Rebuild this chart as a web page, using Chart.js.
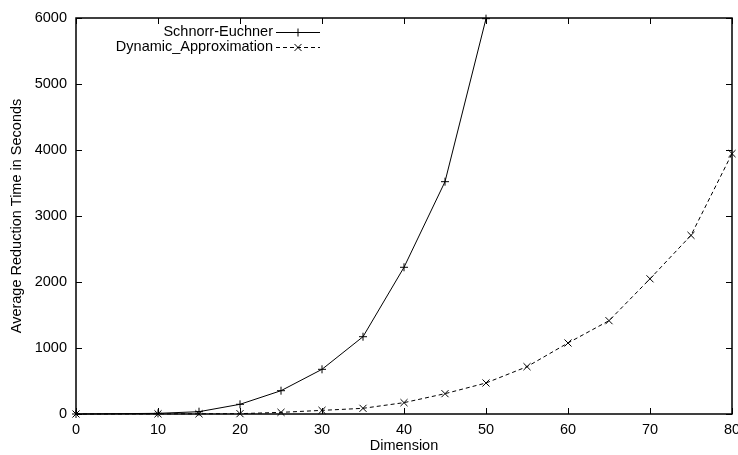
<!DOCTYPE html>
<html>
<head>
<meta charset="utf-8">
<script src="https://cdn.jsdelivr.net/npm/chart.js@4/dist/chart.umd.min.js"></script>
<style>
  html, body { margin: 0; padding: 0; background: #fff; }
  #wrap { width: 738px; height: 455px; }
</style>
</head>
<body>
<div id="wrap"><canvas id="c" width="738" height="455"></canvas></div>
<script>
// ---- data ----
const xAxisTitle = "Dimension";
const yAxisTitle = "Average Reduction Time in Seconds";
const seriesNames = ["Schnorr-Euchner", "Dynamic_Approximation"];
const schnorrDims = [0, 10, 15, 20, 25, 30, 35, 40, 45, 50];
const schnorrTimes = [0, 10, 35, 147, 353, 677, 1171, 2223, 3520, 5990];
const dynamicDims = [0, 10, 15, 20, 25, 30, 35, 40, 45, 50, 55, 60, 65, 70, 75, 80];
const dynamicTimes = [0, 2, 3, 5, 25, 55, 86, 172, 308, 470, 717, 1076, 1414, 2048, 2707, 3945];
const xTicks = [0, 10, 20, 30, 40, 50, 60, 70, 80];
const yTicks = [0, 1000, 2000, 3000, 4000, 5000, 6000];

const FONT = "'Liberation Sans', Arial, Helvetica, sans-serif";
const FS = 14.5;

function toPoints(xs, ys) { return xs.map((x, i) => ({ x: x, y: ys[i] })); }

const frame = {
  id: 'frame',
  afterDatasetsDraw(chart) {
    const { ctx, chartArea: a, scales } = chart;
    const x = scales.x, y = scales.y;
    const L = 6;
    ctx.save();
    ctx.strokeStyle = '#000';
    ctx.lineWidth = 1;
    ctx.beginPath();
    xTicks.forEach(v => {
      const px = Math.round(x.getPixelForValue(v)) + 0.5;
      ctx.moveTo(px, a.bottom); ctx.lineTo(px, a.bottom - L);
      ctx.moveTo(px, a.top); ctx.lineTo(px, a.top + L);
    });
    yTicks.forEach(v => {
      const py = Math.round(y.getPixelForValue(v)) + 0.5;
      ctx.moveTo(a.left, py); ctx.lineTo(a.left + L, py);
      ctx.moveTo(a.right, py); ctx.lineTo(a.right - L, py);
    });
    ctx.stroke();
    ctx.lineWidth = 1.5;
    ctx.strokeRect(a.left, a.top, a.right - a.left, a.bottom - a.top);
    ctx.restore();

    // legend (gnuplot style: right-aligned text, sample to the right)
    ctx.save();
    ctx.font = FS + 'px ' + FONT;
    ctx.fillStyle = '#000';
    ctx.textAlign = 'right';
    ctx.textBaseline = 'middle';
    const textRight = 273, s0 = 276, s1 = 320, rowY = [32, 47];
    chart.data.datasets.forEach((ds, i) => {
      const yy = rowY[i];
      ctx.fillText(ds.label, textRight, yy);
      ctx.strokeStyle = '#000';
      ctx.lineWidth = 1;
      ctx.setLineDash(ds.borderDash || []);
      ctx.beginPath();
      ctx.moveTo(s0, yy + 0.5); ctx.lineTo(s1, yy + 0.5);
      ctx.stroke();
      ctx.setLineDash([]);
      Chart.helpers.drawPoint(ctx, {
        pointStyle: ds.pointStyle, radius: ds.pointRadius, borderWidth: 1
      }, (s0 + s1) / 2, yy + 0.5);
    });
    ctx.restore();
  }
};

new Chart(document.getElementById('c'), {
  type: 'line',
  data: {
    datasets: [
      {
        label: seriesNames[0],
        data: toPoints(schnorrDims, schnorrTimes),
        borderColor: '#000', backgroundColor: '#000',
        borderWidth: 1, pointStyle: 'cross', pointRadius: 4,
        pointBorderWidth: 1, pointBorderColor: '#000', fill: false,
        tension: 0, clip: false
      },
      {
        label: seriesNames[1],
        data: toPoints(dynamicDims, dynamicTimes),
        borderColor: '#000', backgroundColor: '#000',
        borderWidth: 1, borderDash: [4, 3], pointStyle: 'crossRot', pointRadius: 5,
        pointBorderWidth: 1, pointBorderColor: '#000', fill: false,
        tension: 0, clip: false
      }
    ]
  },
  options: {
    responsive: false,
    animation: false,
    devicePixelRatio: 1,
    layout: { padding: { top: 18, right: 6, left: 0, bottom: 0 } },
    plugins: { legend: { display: false }, tooltip: { enabled: false } },
    elements: { point: { hoverRadius: 4 } },
    scales: {
      x: {
        type: 'linear', min: 0, max: 80,
        afterBuildTicks(s) { s.ticks = xTicks.map(v => ({ value: v })); },
        afterFit(s) { s.height = 41; s.paddingLeft = 0; s.paddingRight = 0; },
        grid: { display: false, drawTicks: false },
        border: { display: false },
        ticks: { color: '#000', padding: 7, maxRotation: 0, autoSkip: false,
                 callback: v => String(v),
                 font: { family: FONT, size: FS } },
        title: { display: true, text: xAxisTitle, color: '#000',
                 padding: { top: 0, bottom: 0 }, font: { family: FONT, size: FS } }
      },
      y: {
        type: 'linear', min: 0, max: 6000,
        afterBuildTicks(s) { s.ticks = yTicks.map(v => ({ value: v })); },
        afterFit(s) { s.width = 76; s.paddingTop = 0; s.paddingBottom = 0; },
        grid: { display: false, drawTicks: false },
        border: { display: false },
        ticks: { color: '#000', padding: 9, autoSkip: false,
                 callback: v => String(v),
                 font: { family: FONT, size: FS } },
        title: { display: true, text: yAxisTitle, color: '#000',
                 padding: { top: 8, bottom: 0 }, font: { family: FONT, size: FS } }
      }
    }
  },
  plugins: [frame]
});
</script>
</body>
</html>
